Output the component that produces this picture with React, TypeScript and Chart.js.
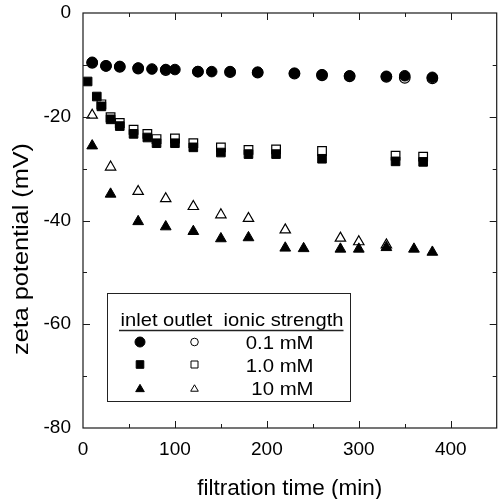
import React, { useEffect, useRef } from 'react';
import { Chart, registerables } from 'chart.js';

Chart.register(...registerables);

// ---- data ----
const circleInletTime = [10, 25, 40, 60, 75, 90, 100, 125, 140, 160, 190, 230, 260, 290, 330, 350, 380];
const circleInletZeta = [-9.5, -10.2, -10.3, -10.6, -10.8, -10.9, -10.9, -11.3, -11.3, -11.3, -11.4, -11.6, -11.9, -12.1, -12.2, -12.1, -12.4];
const circleOutletTime = [10, 25, 40, 60, 90, 125, 160, 190, 230, 260, 290, 330, 350, 380];
const circleOutletZeta = [-9.6, -10.2, -10.4, -10.7, -11.0, -11.3, -11.4, -11.5, -11.7, -12.0, -12.2, -12.3, -12.5, -12.6];

const squareInletTime = [5, 15, 20, 30, 40, 55, 70, 80, 100, 120, 150, 180, 210, 260, 340, 370];
const squareInletZeta = [-13.2, -16.1, -18.0, -20.5, -21.8, -23.3, -24.0, -25.1, -25.1, -25.9, -26.9, -27.2, -27.2, -28.1, -28.6, -28.7];
const squareOutletTime = [20, 30, 40, 55, 70, 80, 100, 120, 150, 180, 210, 260, 340, 370];
const squareOutletZeta = [-17.6, -20.1, -21.2, -22.5, -23.3, -24.3, -24.2, -25.1, -25.9, -26.4, -26.3, -26.6, -27.5, -27.7];

const triInletTime = [10, 30, 60, 90, 120, 150, 180, 220, 240, 280, 300, 330, 360, 380];
const triInletZeta = [-25.6, -34.9, -40.2, -41.2, -42.1, -43.5, -43.3, -45.3, -45.4, -45.5, -45.5, -45.2, -45.5, -46.1];
const triOutletTime = [10, 30, 60, 90, 120, 150, 180, 220, 280, 300, 330];
const triOutletZeta = [-19.7, -29.7, -34.4, -35.8, -37.3, -38.9, -39.6, -41.8, -43.4, -44.1, -44.7];

const xTickLabels = ['0', '100', '200', '300', '400'];
const yTickLabels = ['0', '-20', '-40', '-60', '-80'];
const legendHeader = ['inlet', 'outlet', 'ionic strength'];
const legendLabels = ['0.1 mM', '1.0 mM', '10 mM'];

const xTitle = 'filtration time (min)';
const yTitle = 'zeta potential (mV)';

const FONT = 'Arial, "Liberation Sans", Helvetica, sans-serif';

const pts = (t: number[], z: number[]) => t.map((x, i) => ({ x, y: z[i] }));

function drawMarker(ctx: CanvasRenderingContext2D, shape: string, filled: boolean, x: number, y: number, r: number) {
  ctx.save();
  ctx.beginPath();
  if (shape === 'circle') {
    ctx.arc(x, y, r, 0, Math.PI * 2);
  } else if (shape === 'rect') {
    ctx.rect(x - r, y - r, 2 * r, 2 * r);
  } else {
    const h = r * 1.7;
    ctx.moveTo(x, y - h / 2);
    ctx.lineTo(x + r, y + h / 2);
    ctx.lineTo(x - r, y + h / 2);
    ctx.closePath();
  }
  ctx.lineWidth = 1;
  ctx.strokeStyle = '#000';
  ctx.fillStyle = filled ? '#000' : '#fff';
  ctx.fill();
  ctx.stroke();
  ctx.restore();
}

const decorPlugin = {
  id: 'decor',
  afterDraw(chart: any) {
    const ctx: CanvasRenderingContext2D = chart.ctx;
    const { left, right, top, bottom } = chart.chartArea;
    const xs = chart.scales.x;
    const ys = chart.scales.y;
    ctx.save();
    // frame
    ctx.strokeStyle = '#1a1a1a';
    ctx.lineWidth = 1.2;
    ctx.strokeRect(left, top, right - left, bottom - top);
    // inward ticks
    ctx.lineWidth = 1;
    xs.ticks.forEach((t: any) => {
      const px = Math.round(xs.getPixelForValue(t.value)) + 0.5;
      if (px <= left + 1 || px >= right - 1) return;
      const L = t.value % 100 === 0 ? 7 : 4;
      ctx.beginPath();
      ctx.moveTo(px, bottom);
      ctx.lineTo(px, bottom - L);
      ctx.moveTo(px, top);
      ctx.lineTo(px, top + L);
      ctx.stroke();
    });
    ys.ticks.forEach((t: any) => {
      const py = Math.round(ys.getPixelForValue(t.value)) + 0.5;
      if (py <= top + 1 || py >= bottom - 1) return;
      const L = t.value % 20 === 0 ? 7 : 4;
      ctx.beginPath();
      ctx.moveTo(left, py);
      ctx.lineTo(left + L, py);
      ctx.moveTo(right, py);
      ctx.lineTo(right - L, py);
      ctx.stroke();
    });

    // axis titles
    ctx.fillStyle = '#000';
    ctx.font = `22px ${FONT}`;
    ctx.textBaseline = 'alphabetic';
    ctx.textAlign = 'center';
    {
      const w = ctx.measureText(xTitle).width;
      const sx = 185 / w;
      ctx.save();
      ctx.translate((left + right) / 2, 495);
      ctx.scale(sx, 1);
      ctx.fillText(xTitle, 0, 0);
      ctx.restore();
    }
    {
      const w = ctx.measureText(yTitle).width;
      const sx = 212 / w;
      ctx.save();
      ctx.translate(27.5, 249);
      ctx.rotate(-Math.PI / 2);
      ctx.scale(sx, 1);
      ctx.fillText(yTitle, 0, 0);
      ctx.restore();
    }

    // legend box
    const bx = 107, by = 293, bw = 243, bh = 108;
    ctx.strokeStyle = '#222';
    ctx.lineWidth = 1;
    ctx.strokeRect(bx + 0.5, by + 0.5, bw, bh);
    ctx.font = `19px ${FONT}`;
    ctx.textAlign = 'left';
    {
      const header = `${legendHeader[0]} ${legendHeader[1]}  ${legendHeader[2]}`;
      const w = ctx.measureText(header).width;
      ctx.save();
      ctx.translate(120.5, 326);
      ctx.scale(223 / w, 1);
      ctx.fillText(header, 0, 0);
      ctx.restore();
    }
    ctx.lineWidth = 1.5;
    ctx.beginPath();
    ctx.moveTo(119, 330.5);
    ctx.lineTo(343.5, 330.5);
    ctx.stroke();
    const rows = [342, 364.5, 388];
    const shapes = ['circle', 'rect', 'triangle'];
    const rFill = [5, 3.8, 4.3];
    const rOpen = [3.8, 3.5, 3.8];
    rows.forEach((ry, i) => {
      drawMarker(ctx, shapes[i], true, 140, ry, rFill[i]);
      drawMarker(ctx, shapes[i], false, 194.5, ry, rOpen[i]);
      ctx.fillStyle = '#000';
      ctx.save();
      ctx.textAlign = 'right';
      ctx.translate(313.5, ry + 7);
      ctx.scale(1.07, 1);
      ctx.fillText(legendLabels[i], 0, 0);
      ctx.restore();
    });
    ctx.restore();
  },
};

export default function App() {
  const ref = useRef<HTMLCanvasElement | null>(null);
  useEffect(() => {
    if (!ref.current) return;
    const filled = (shape: string, r: number) => ({
      pointStyle: shape,
      pointRadius: r,
      pointBackgroundColor: '#000',
      pointBorderColor: '#000',
      pointBorderWidth: 1,
      showLine: false,
    });
    const open = (shape: string, r: number) => ({
      pointStyle: shape,
      pointRadius: r,
      pointBackgroundColor: '#fff',
      pointBorderColor: '#000',
      pointBorderWidth: 1.2,
      showLine: false,
    });
    const chart = new Chart(ref.current, {
      type: 'scatter',
      data: {
        datasets: [
          { label: '0.1 mM inlet', data: pts(circleInletTime, circleInletZeta), ...filled('circle', 5.3) },
          { label: '1.0 mM inlet', data: pts(squareInletTime, squareInletZeta), ...filled('rect', 6.1) },
          { label: '10 mM inlet', data: pts(triInletTime, triInletZeta), ...filled('triangle', 6.2) },
          { label: '0.1 mM outlet', data: pts(circleOutletTime, circleOutletZeta), ...open('circle', 5.3) },
          { label: '1.0 mM outlet', data: pts(squareOutletTime, squareOutletZeta), ...open('rect', 6.1) },
          { label: '10 mM outlet', data: pts(triOutletTime, triOutletZeta), ...open('triangle', 6.0) },
        ] as any,
      },
      options: {
        animation: false,
        responsive: false,
        maintainAspectRatio: false,
        layout: { padding: { left: 0, right: 3, top: 13, bottom: 0 } },
        plugins: { legend: { display: false }, tooltip: { enabled: false } },
        scales: {
          x: {
            type: 'linear',
            min: 0,
            max: 450,
            grid: { display: false, drawTicks: false },
            border: { display: false },
            afterFit: (s: any) => { s.height = 71; s.paddingLeft = 0; s.paddingRight = 0; },
            ticks: {
              stepSize: 50,
              autoSkip: false,
              maxRotation: 0,
              padding: 10,
              color: '#000',
              font: { family: FONT, size: 19 },
              callback: (v: any) => {
                const i = xTickLabels.indexOf(String(v));
                return i >= 0 ? xTickLabels[i] : '';
              },
            },
          },
          y: {
            type: 'linear',
            min: -80,
            max: 0,
            grid: { display: false, drawTicks: false },
            border: { display: false },
            afterFit: (s: any) => { s.width = 83; s.paddingTop = 0; s.paddingBottom = 0; },
            ticks: {
              stepSize: 10,
              autoSkip: false,
              padding: 12,
              color: '#000',
              font: { family: FONT, size: 19 },
              callback: (v: any) => {
                const i = yTickLabels.indexOf(String(v));
                return i >= 0 ? yTickLabels[i] : '';
              },
            },
          },
        },
      },
      plugins: [decorPlugin],
    });
    return () => chart.destroy();
  }, []);
  return (
    <div style={{ position: 'fixed', left: 0, top: 0, width: 504, height: 499, background: '#fff' }}>
      <canvas ref={ref} width={504} height={499} style={{ width: 504, height: 499, display: 'block' }} />
    </div>
  );
}
